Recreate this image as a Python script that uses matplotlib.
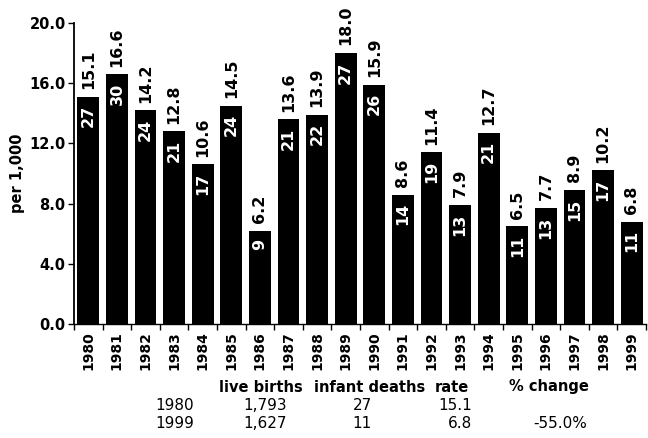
import matplotlib
matplotlib.use("Agg")
import matplotlib.pyplot as plt
import numpy as np

years = [str(y) for y in range(1980, 2000)]
rates = [15.1, 16.6, 14.2, 12.8, 10.6, 14.5, 6.2, 13.6, 13.9, 18.0,
         15.9, 8.6, 11.4, 7.9, 12.7, 6.5, 7.7, 8.9, 10.2, 6.8]
deaths = [27, 30, 24, 21, 17, 24, 9, 21, 22, 27,
          26, 14, 19, 13, 21, 11, 13, 15, 17, 11]
yticks = [0.0, 4.0, 8.0, 12.0, 16.0, 20.0]

table_header = ["live births", "infant deaths", "rate", "% change"]
table_rows = [
    ["1980", "1,793", "27", "15.1", ""],
    ["1999", "1,627", "11", "6.8", "-55.0%"],
]

plt.rcParams['font.family'] = ['DejaVu Sans']
W, H = 648, 438
fig = plt.figure(figsize=(W / 100, H / 100), dpi=100)
ax = fig.add_axes([74 / W, 1 - 324 / H, (646 - 74) / W, (324 - 23) / H])

x = np.arange(len(years))
ax.bar(x, rates, width=0.76, color='black')
ax.set_xlim(-0.5, len(years) - 0.5)
ax.set_ylim(0, 20)

for xi, r, d in zip(x, rates, deaths):
    ax.annotate(f"{r:.1f}", (xi, r), xytext=(0, 5.5), textcoords='offset points',
                rotation=90, ha='center', va='bottom', fontsize=11.5,
                fontweight='bold', color='black')
    ax.annotate(f"{d}", (xi, r), xytext=(0, -6), textcoords='offset points',
                rotation=90, ha='center', va='top', fontsize=11.5,
                fontweight='bold', color='white')

ax.set_yticks(yticks)
ax.set_yticklabels([f"{v:.1f}" for v in yticks], fontsize=10.5, fontweight='bold')
ax.set_xticks(x)
ax.set_xticklabels(years, rotation=90, fontsize=10, fontweight='bold')
ax.set_xticks(np.arange(-0.5, len(years) - 0.4, 1), minor=True)
ax.tick_params(axis='x', which='major', length=0, pad=5)
ax.tick_params(axis='x', which='minor', length=4, width=1, direction='out')
ax.tick_params(axis='y', length=4, width=1, direction='out', pad=2)
for s in ['top', 'right']:
    ax.spines[s].set_visible(False)
ax.spines['left'].set_linewidth(1.3)
ax.spines['bottom'].set_linewidth(1)
ax.set_ylabel("per 1,000", fontsize=10.5, fontweight='bold', labelpad=3)

def fx(px):
    return px / W

def fy(py):
    return 1 - py / H

hdr_x = [261, 370, 452, 549]
for t, hx in zip(table_header, hdr_x):
    fig.text(fx(hx), fy(387), t, ha='center', va='center', fontsize=10.5, fontweight='bold')

col_right = [194, 287, 372, 472, 587]
row_y = [405, 424]
for row, ry in zip(table_rows, row_y):
    for t, cx in zip(row, col_right):
        fig.text(fx(cx), fy(ry), t, ha='right', va='center', fontsize=11, color='black')

fig.savefig("out.png", dpi=100)
